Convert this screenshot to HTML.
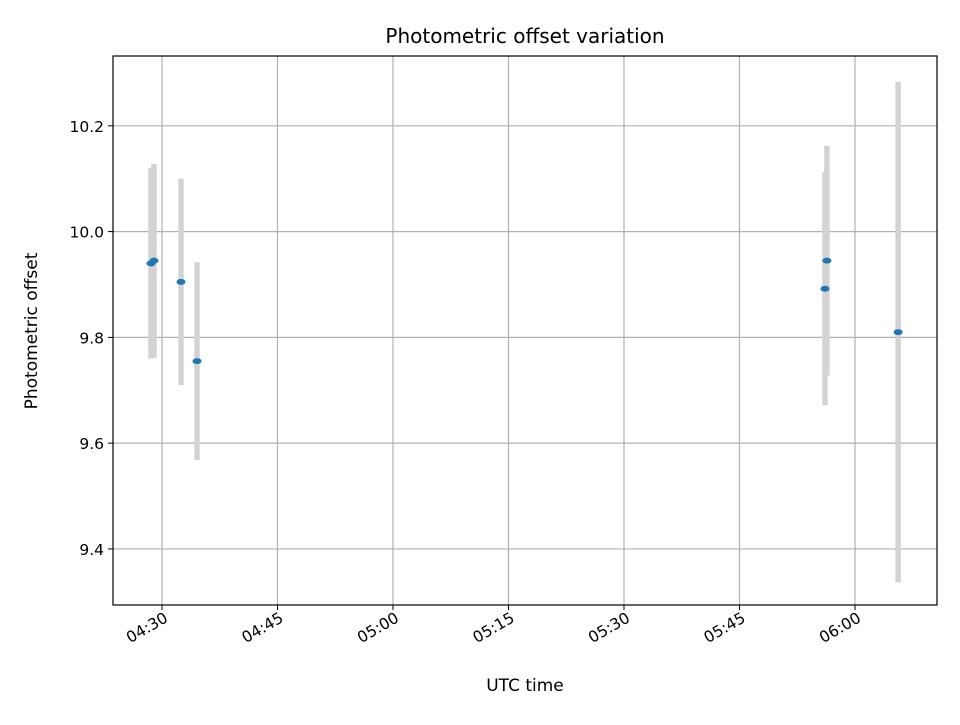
<!DOCTYPE html>
<html><head><meta charset="utf-8"><style>
body{margin:0;background:#fff}
svg text{font-family:"DejaVu Sans","Liberation Sans",sans-serif;fill:#000}
</style></head><body>
<svg width="960" height="720" xmlns="http://www.w3.org/2000/svg">
<rect width="960" height="720" fill="#fff"/>
<g id="grid"></g><g id="bars"></g><g id="pts"></g><g id="axes"></g>
<rect x="113" y="56" width="824" height="549" fill="none" stroke="#000" stroke-width="1.2"/>
<text x="525" y="43" font-size="20" text-anchor="middle">Photometric offset variation</text>
<text x="525" y="691" font-size="17" text-anchor="middle">UTC time</text>
<text transform="translate(37,331) rotate(-90)" font-size="17" text-anchor="middle">Photometric offset</text>
</svg>
<script>
// minutes after 04:00 UTC
const times=[28.57,28.96,32.47,34.55,116.1,116.35,125.6];
const values=[9.94,9.945,9.905,9.755,9.892,9.945,9.81];
const errors=[0.18,0.183,0.195,0.187,0.22,0.217,0.473];
const yTicks=[9.4,9.6,9.8,10.0,10.2];
const xTicks=[30,45,60,75,90,105,120];
const xTickLabels=["04:30","04:45","05:00","05:15","05:30","05:45","06:00"];
const L=113,R=937,T=56,B=605;
const x0=23.64,x1=130.65,y0=9.294,y1=10.332;
const sx=v=>L+(v-x0)/(x1-x0)*(R-L);
const sy=v=>B-(v-y0)/(y1-y0)*(B-T);
const NS="http://www.w3.org/2000/svg";
function mk(tag,attrs,parent){const e=document.createElementNS(NS,tag);for(const k in attrs)e.setAttribute(k,attrs[k]);document.getElementById(parent).appendChild(e);return e;}
yTicks.forEach(v=>{const y=sy(v);
 let g=mk('line',{x1:L,x2:R,y1:y,y2:y,stroke:'#b0b0b0','stroke-width':1.2},'grid');
 
 
 mk('line',{x1:L-5,x2:L,y1:y,y2:y,stroke:'#000'},'axes');
 let t=mk('text',{x:L-9,y:y+6,'font-size':15.5,'text-anchor':'end'},'axes');t.textContent=v.toFixed(1);
 
 
});
xTicks.forEach((v,i)=>{const x=sx(v);
 let g=mk('line',{x1:x,x2:x,y1:T,y2:B,stroke:'#b0b0b0','stroke-width':1.2},'grid');
 
 
 mk('line',{x1:x,x2:x,y1:B,y2:B+5,stroke:'#000'},'axes');
 let t=mk('text',{transform:`translate(${x+7},${B+16}) rotate(-30)`,'font-size':15.5,'text-anchor':'end'},'axes');t.textContent=xTickLabels[i];
 
 
});
times.forEach((t,i)=>{const x=sx(t);
 let b=mk('line',{x1:x,x2:x,y1:sy(values[i]+errors[i]),y2:sy(values[i]-errors[i]),stroke:'#d3d3d3','stroke-width':5.5},'bars');
 
 
 let p=mk('ellipse',{cx:x,cy:sy(values[i]),rx:4.5,ry:3,fill:'#1f77b4'},'pts');
 
 
});
</script>
</body></html>
